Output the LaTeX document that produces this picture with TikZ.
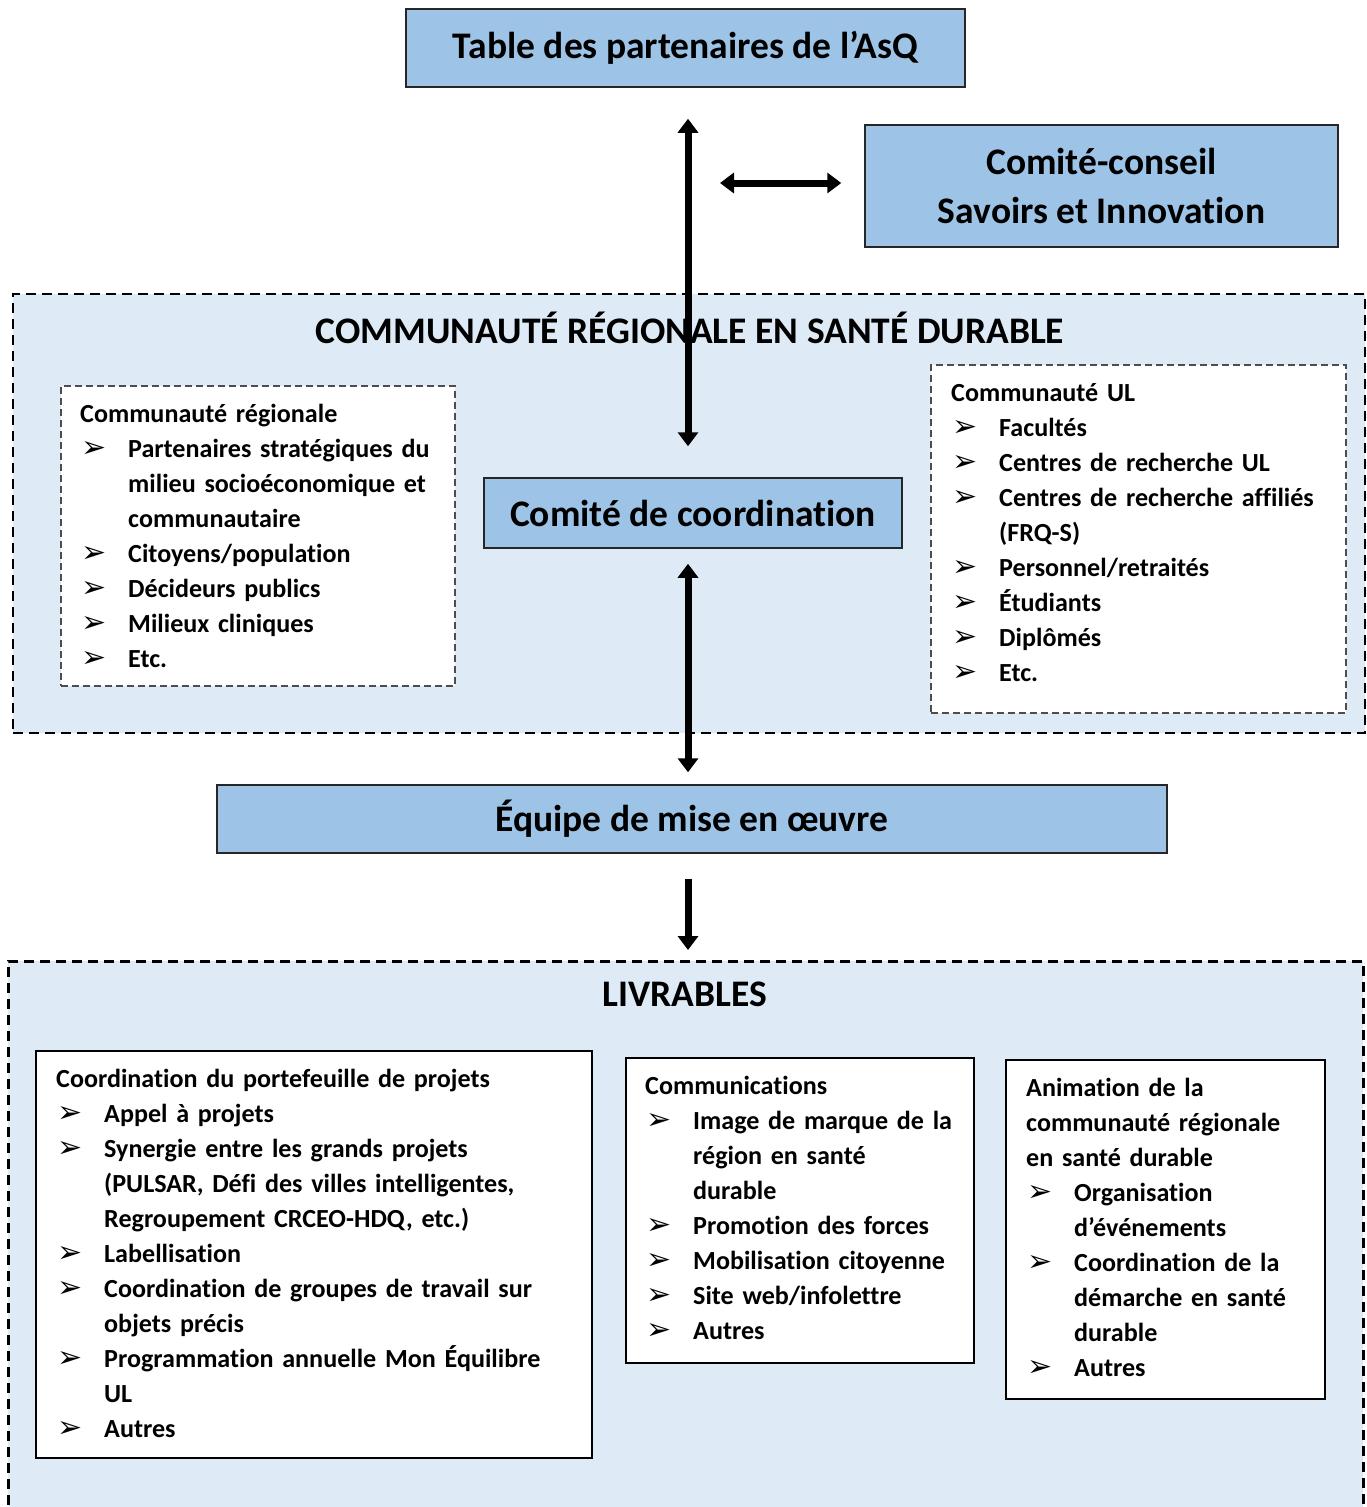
\documentclass[tikz,border=0pt]{standalone}
\usepackage{fontspec}
\setmainfont{Carlito}[Ligatures=NoCommon]
\newfontfamily\symfont{DejaVu Sans}
\usepackage{tikz}
\usetikzlibrary{arrows.meta,positioning,calc}
\usepackage{xcolor}
\definecolor{asqblue}{HTML}{9DC3E6}
\definecolor{asqpale}{HTML}{DEEBF7}
\definecolor{asqgray}{HTML}{4D4D4D}
\setlength{\parindent}{0pt}
\setlength{\parskip}{0pt}
\newcommand{\bul}{{\symfont\fontsize{30}{35}\selectfont\char"27A2}}
\newcommand{\hd}[1]{\strut#1\par}
\newcommand{\itm}[1]{\hangindent=48pt\hangafter=1\noindent\makebox[48pt][l]{\hspace{1pt}\bul}\strut#1\par}
\tikzstyle{mainbox} = [rectangle, draw=black!85, line width=1.5pt, fill=asqblue, text centered, font=\bfseries\fontsize{37.5}{49}\selectfont]
\tikzstyle{region} = [rectangle, draw=black, line width=2.5pt, dash pattern=on 10pt off 6pt, fill=asqpale]
\tikzstyle{dashbox} = [rectangle, draw=asqgray, line width=1.8pt, dash pattern=on 7pt off 4pt, fill=white, anchor=north west]
\tikzstyle{solidbox} = [rectangle, draw=black, line width=1.5pt, fill=white, anchor=north west]
\tikzstyle{listtext} = [anchor=north west, inner sep=0pt, align=left, font=\bfseries\fontsize{26.1}{35}\selectfont]
\tikzstyle{regiontitle} = [font=\bfseries\fontsize{37.5}{40}\selectfont]
\tikzstyle{dblarrow} = [line width=7pt, {Triangle[width=20pt,length=14pt]}-{Triangle[width=20pt,length=14pt]}]
\tikzstyle{arrow} = [line width=7pt, -{Triangle[width=20pt,length=14pt]}]

\begin{document}
\begin{tikzpicture}[x=1pt, y=-1pt]
\useasboundingbox (0,0) rectangle (1367,1507);

% Background regions
\node (region) [region, minimum width=1352, minimum height=439] at (689,513.5) {};
\node (livreg) [region, minimum width=1355, minimum height=580, anchor=north west] at (7,960) {};
\node (regtitle) [regiontitle] at (690,328) {COMMUNAUTÉ RÉGIONALE EN SANTÉ DURABLE};
\node (livtitle) [regiontitle] at (685,994) {LIVRABLES};

% Governance boxes
\node (tabpart) [mainbox, minimum width=559, minimum height=78] at (685.5,48) {Table des partenaires de l’AsQ};
\node (conseil) [mainbox, minimum width=473, minimum height=122, align=center] at (1101.5,186) {Comité-conseil\\Savoirs et Innovation};
\node (coord) [mainbox, minimum width=418, minimum height=70] at (693,513) {Comité de coordination};
\node (equipe) [mainbox, minimum width=950, minimum height=68] at (692,819) {Équipe de mise en œuvre};

% Communities
\node (comreg) [dashbox, minimum width=394, minimum height=300] at (60,385) {};
\node [listtext, text width=380] at ($(comreg.north west)+(20,13)$) {%
\hd{Communauté régionale}
\itm{Partenaires stratégiques du\newline milieu socioéconomique et\newline communautaire}
\itm{Citoyens/population}
\itm{Décideurs publics}
\itm{Milieux cliniques}
\itm{Etc.}};
\node (comul) [dashbox, minimum width=415, minimum height=348] at (930,364) {};
\node [listtext, text width=400] at ($(comul.north west)+(21,13)$) {%
\hd{Communauté UL}
\itm{Facultés}
\itm{Centres de recherche UL}
\itm{Centres de recherche affiliés\newline (FRQ-S)}
\itm{Personnel/retraités}
\itm{Étudiants}
\itm{Diplômés}
\itm{Etc.}};

% Deliverables
\node (portef) [solidbox, minimum width=556, minimum height=407] at (35,1050) {};
\node [listtext, text width=540] at ($(portef.north west)+(21,13)$) {%
\hd{Coordination du portefeuille de projets}
\itm{Appel à projets}
\itm{Synergie entre les grands projets\newline (PULSAR, Défi des villes intelligentes,\newline Regroupement CRCEO-HDQ, etc.)}
\itm{Labellisation}
\itm{Coordination de groupes de travail sur\newline objets précis}
\itm{Programmation annuelle Mon Équilibre\newline UL}
\itm{Autres}};
\node (comm) [solidbox, minimum width=348, minimum height=305] at (625,1057) {};
\node [listtext, text width=340] at ($(comm.north west)+(20,13)$) {%
\hd{Communications}
\itm{Image de marque de la\newline région en santé\newline durable}
\itm{Promotion des forces}
\itm{Mobilisation citoyenne}
\itm{Site web/infolettre}
\itm{Autres}};
\node (anim) [solidbox, minimum width=319, minimum height=339] at (1005,1059) {};
\node [listtext, text width=310] at ($(anim.north west)+(21,13)$) {%
\hd{Animation de la\newline communauté régionale\newline en santé durable}
\itm{Organisation\newline d’événements}
\itm{Coordination de la\newline démarche en santé\newline durable}
\itm{Autres}};

% Arrows
\coordinate (axis) at (688,0);
\coordinate (hl) at (720,183);
\draw[dblarrow, shorten <=31pt, shorten >=31pt] (tabpart.south -| axis) -- (coord.north -| axis);
\draw[dblarrow, shorten >=23pt] (hl) -- (conseil.west |- hl);
\draw[dblarrow, shorten <=15pt, shorten >=12pt] (coord.south -| axis) -- (equipe.north -| axis);
\draw[arrow, shorten <=25pt, shorten >=10pt] (equipe.south -| axis) -- (livreg.north -| axis);
\end{tikzpicture}
\end{document}
